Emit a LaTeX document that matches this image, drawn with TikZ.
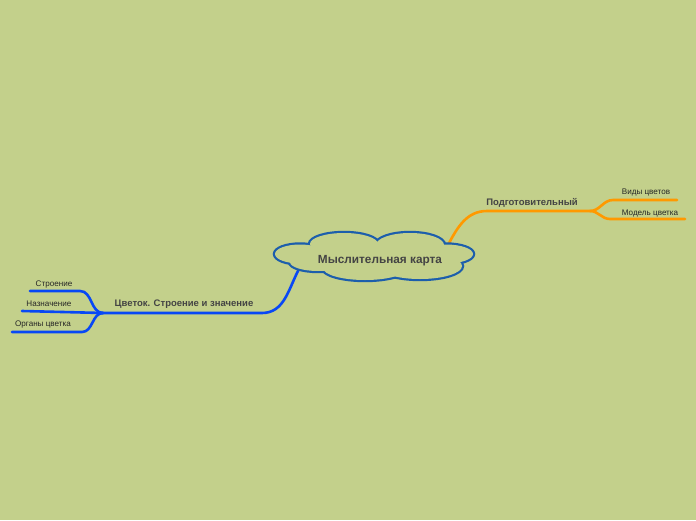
\documentclass[tikz,border=0pt]{standalone}
\usepackage{fontspec}
\setmainfont{Liberation Sans}
\definecolor{bg}{RGB}{195,208,139}
\definecolor{cloudline}{RGB}{28,94,172}
\definecolor{orangeline}{RGB}{255,153,0}
\definecolor{blueline}{RGB}{8,72,245}
\definecolor{topic}{RGB}{68,68,68}
\tikzset{topicbox/.style={font=\bfseries\fontsize{9.5}{10}\selectfont, text=topic, inner sep=0pt},
  leaf/.style={font=\fontsize{8.1}{9}\selectfont, text=black!85, inner sep=0pt},
  branch/.style={line width=2.6pt, line cap=round}}

\begin{document}
\begin{tikzpicture}[x=1pt, y=-1pt]
  \fill[bg] (0,0) rectangle (696,520);
  % anchor points of the branches
  \coordinate (outNE) at (448,245);
  \coordinate (outSW) at (299,269);
  \coordinate (forkA) at (590,211);
  \coordinate (forkB) at (103,313);
  \coordinate (kindsE) at (677,200);
  \coordinate (modelE) at (685,219);
  \coordinate (structW) at (30,291);
  \coordinate (purpW) at (22,311);
  \coordinate (organsW) at (12,332);
  % right branch
  \draw[branch, orangeline] (outNE) to[out=62, in=180] (487,211) -- (forkA);
  \draw[branch, orangeline] (forkA) to[out=0, in=180] (613,200) -- (kindsE);
  \draw[branch, orangeline] (forkA) to[out=0, in=180] (610,219) -- (modelE);
  % left branch
  \draw[branch, blueline] (outSW) to[out=242, in=0] (262,313) -- (forkB);
  \draw[branch, blueline] (forkB) to[out=180, in=0] (80,291) -- (structW);
  \draw[branch, blueline] (forkB) -- (purpW);
  \draw[branch, blueline] (forkB) to[out=180, in=0] (82,332) -- (organsW);
  % cloud round the central topic
  \foreach \cx/\cy/\rx/\ry in {300/254/25/9.5, 344/244/34/11, 410/245/34/12,
      446/254/27/9.5, 420/266/42/13, 365/268/42/12, 318/262/28/9}
    \draw[cloudline, line width=4.4pt] (\cx,\cy) ellipse [x radius=\rx, y radius=\ry];
  \foreach \cx/\cy/\rx/\ry in {300/254/25/9.5, 344/244/34/11, 410/245/34/12,
      446/254/27/9.5, 420/266/42/13, 365/268/42/12, 318/262/28/9, 375/257/70/10}
    \fill[bg] (\cx,\cy) ellipse [x radius=\rx, y radius=\ry];
  \node[topicbox, font=\bfseries\fontsize{11.8}{12}\selectfont] (root) at (380,260.5) {Мыслительная карта};
  % labels
  \node[topicbox] (prep) at (532,203) {Подготовительный};
  \node[leaf] (kinds) at (646,193) {Виды цветов};
  \node[leaf] (model) at (650,214) {Модель цветка};
  \node[topicbox] (flower) at (184,304) {Цветок. Строение и значение};
  \node[leaf] (struct) at (54,285) {Строение};
  \node[leaf] (purp) at (49,304) {Назначение};
  \node[leaf] (organs) at (43,325) {Органы цветка};
\end{tikzpicture}
\end{document}
